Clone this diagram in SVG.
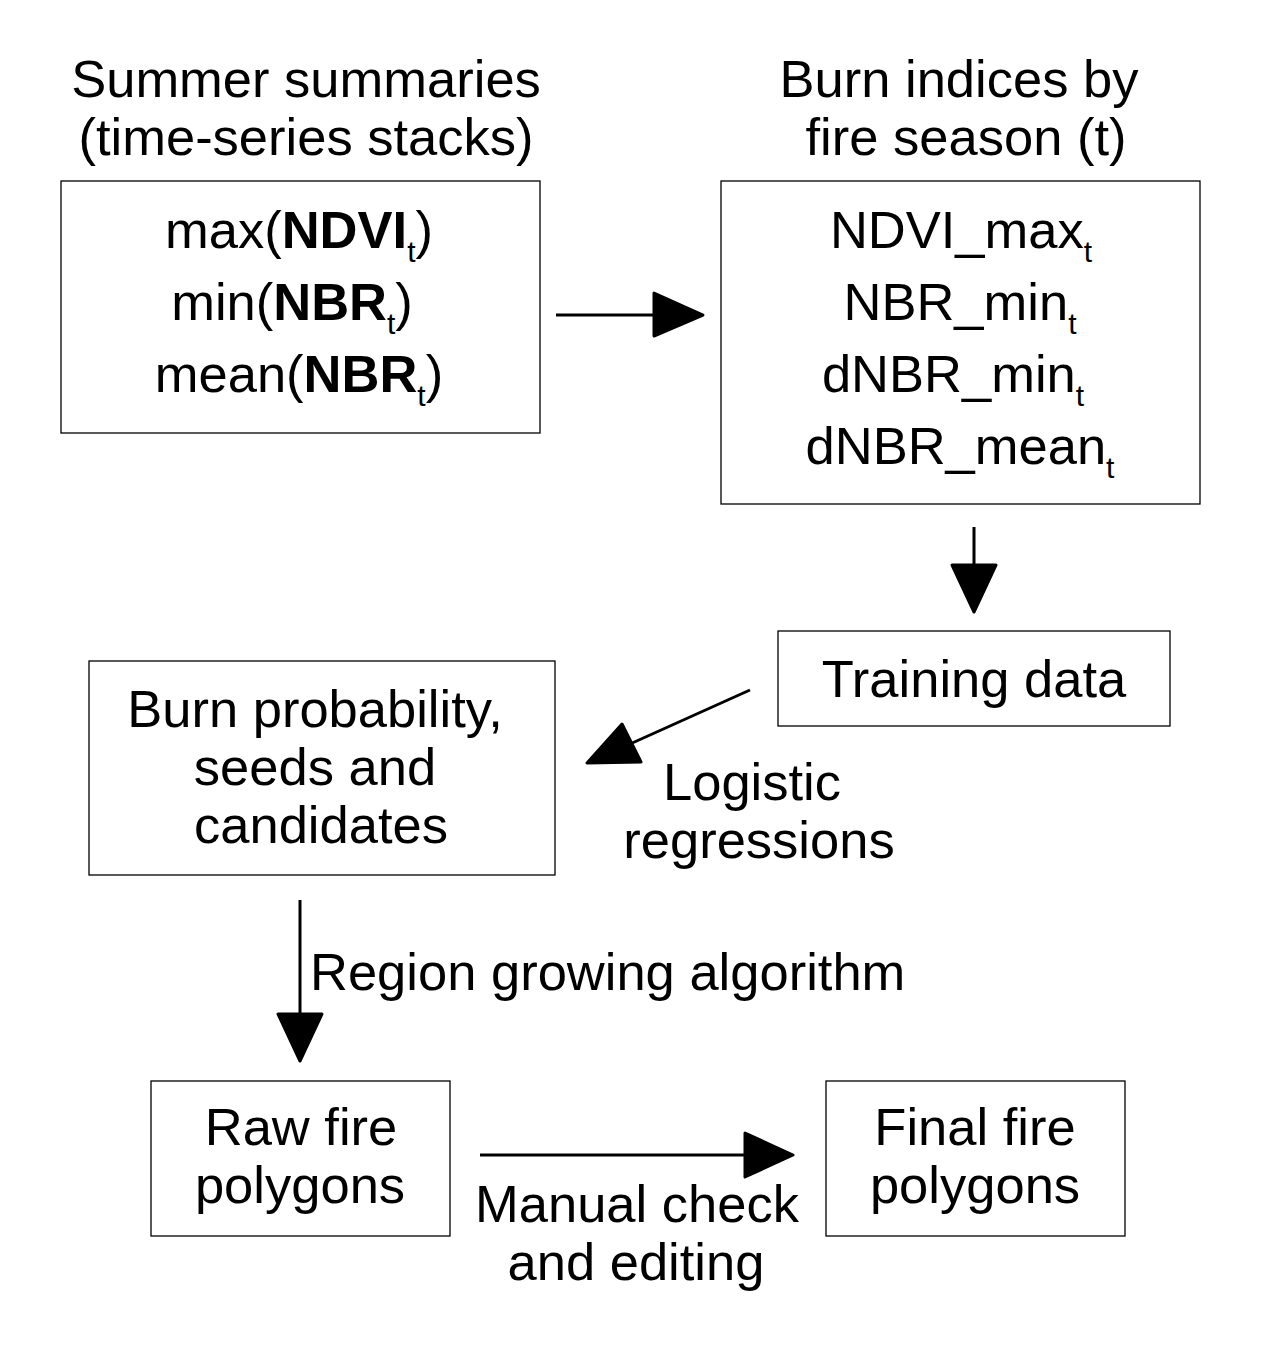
<svg xmlns="http://www.w3.org/2000/svg" width="1274" height="1349" viewBox="0 0 1274 1349">
<style>
.box{fill:#fff;stroke:#000;stroke-width:1.3}
text{font-family:"Liberation Sans",Arial,sans-serif;font-size:52.5px;fill:#000;text-anchor:middle}
.b{font-weight:bold}
.s{font-size:30px}
.ln{stroke:#000;stroke-width:3;fill:none}
.ah{fill:#000;stroke:#000;stroke-width:3;stroke-linejoin:round}
</style>
<rect width="1274" height="1349" fill="#fff"/>
<g id="title1">
<text x="306" y="97">Summer summaries</text>
<text x="306" y="155">(time-series stacks)</text>
</g>
<g id="title2">
<text x="959" y="97">Burn indices by</text>
<text x="966" y="155">fire season (t)</text>
</g>
<g id="summaries">
<rect class="box" x="61" y="181" width="479" height="252"/>
<text x="299" y="248">max(<tspan class="b">NDVI</tspan><tspan class="s" dy="14">t</tspan><tspan dy="-14">)</tspan></text>
<text x="292" y="320">min(<tspan class="b">NBR</tspan><tspan class="s" dy="14">t</tspan><tspan dy="-14">)</tspan></text>
<text x="299" y="392">mean(<tspan class="b">NBR</tspan><tspan class="s" dy="14">t</tspan><tspan dy="-14">)</tspan></text>
</g>
<g id="indices">
<rect class="box" x="721" y="181" width="479" height="323"/>
<text x="961" y="248">NDVI_max<tspan class="s" dy="14">t</tspan></text>
<text x="960" y="320">NBR_min<tspan class="s" dy="14">t</tspan></text>
<text x="953" y="392">dNBR_min<tspan class="s" dy="14">t</tspan></text>
<text x="960" y="464">dNBR_mean<tspan class="s" dy="14">t</tspan></text>
</g>
<g id="training">
<rect class="box" x="778" y="631" width="392" height="95"/>
<text x="974" y="697">Training data</text>
</g>
<g id="burnprob">
<rect class="box" x="89" y="661" width="466" height="214"/>
<text x="315" y="727">Burn probability,</text>
<text x="315" y="785">seeds and</text>
<text x="321" y="843">candidates</text>
</g>
<g id="raw">
<rect class="box" x="151" y="1081" width="299" height="155"/>
<text x="301" y="1145">Raw fire</text>
<text x="300" y="1203">polygons</text>
</g>
<g id="final">
<rect class="box" x="826" y="1081" width="299" height="155"/>
<text x="975" y="1145">Final fire</text>
<text x="975" y="1203">polygons</text>
</g>
<g id="connectors">
<line class="ln" x1="556" y1="315" x2="654" y2="315"/>
<polygon class="ah" points="654,293 703,315 654,336"/>
<line class="ln" x1="974" y1="527" x2="974" y2="565"/>
<polygon class="ah" points="952,565 996,565 974,612"/>
<line class="ln" x1="750" y1="690" x2="630" y2="744"/>
<polygon class="ah" points="622,724 641,762 587,763"/>
<line class="ln" x1="300" y1="900" x2="300" y2="1014"/>
<polygon class="ah" points="278,1014 322,1014 300,1061"/>
<line class="ln" x1="480" y1="1155" x2="745" y2="1155"/>
<polygon class="ah" points="745,1133 793,1155 745,1177"/>
</g>
<g id="labels">
<text x="752" y="800">Logistic</text>
<text x="759" y="858">regressions</text>
<text x="310" y="990" style="text-anchor:start">Region growing algorithm</text>
<text x="637" y="1222">Manual check</text>
<text x="636" y="1280">and editing</text>
</g>
</svg>
